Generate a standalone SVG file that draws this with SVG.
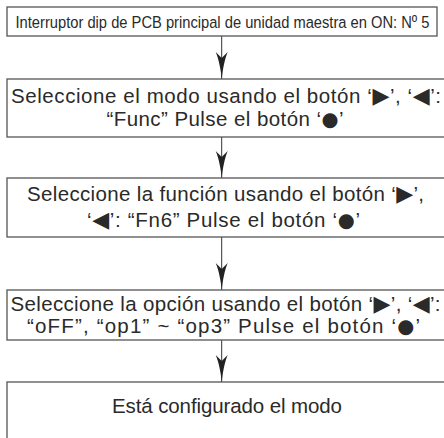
<svg xmlns="http://www.w3.org/2000/svg" width="444" height="438" viewBox="0 0 444 438">
<style>
.box{fill:#fff;stroke:#555;stroke-width:1.3}
.t{font-family:"Liberation Sans","DejaVu Sans",sans-serif;font-size:20.5px;fill:#2a2a2a;text-anchor:middle}
.s{font-family:"DejaVu Sans",sans-serif;font-size:22px}
.b{font-family:"DejaVu Sans",sans-serif;font-size:19.5px}
.n{font-family:"Liberation Sans","DejaVu Sans",sans-serif;font-size:17px;fill:#2a2a2a;text-anchor:middle}
.c{stroke:#333;stroke-width:1;fill:none;marker-end:url(#ah)}
</style>
<defs>
<marker id="ah" markerUnits="userSpaceOnUse" viewBox="-28 -7 30 14" markerWidth="30" markerHeight="14" refX="0" refY="0" orient="auto" overflow="visible">
<path d="M0,0 C-10,-1 -20,-3 -27,-6 L-21,0 L-27,6 C-20,3 -10,1 0,0 Z" fill="#222"/>
</marker>
</defs>
<rect width="444" height="438" fill="#fff"/>
<g id="connectors">
<line class="c" x1="221.7" y1="36" x2="221.7" y2="79"/>
<line class="c" x1="221.7" y1="137" x2="221.7" y2="178"/>
<line class="c" x1="221.7" y1="237" x2="221.7" y2="290"/>
<line class="c" x1="221.7" y1="340" x2="221.7" y2="382"/>
</g>
<g id="n1">
<rect class="box" x="7" y="7" width="430" height="29"/>
<text class="n" transform="translate(222.5 27.5) scale(0.865 1)" x="0" y="0" textLength="478.6" lengthAdjust="spacingAndGlyphs">Interruptor dip de PCB principal de unidad maestra en ON: Nº 5</text>
</g>
<g id="n2">
<rect class="box" x="7" y="79" width="440" height="58"/>
<text class="t" x="226" y="103" textLength="430">Seleccione el modo usando el botón ‘<tspan class="s">▶</tspan>’, ‘<tspan class="s">◀</tspan>’:</text>
<text class="t" x="225" y="126" textLength="237">“Func” Pulse el botón ‘<tspan class="b">●</tspan>’</text>
</g>
<g id="n3">
<rect class="box" x="7" y="178" width="440" height="59"/>
<text class="t" x="225.5" y="201" textLength="397">Seleccione la función usando el botón ‘<tspan class="s">▶</tspan>’,</text>
<text class="t" x="223.5" y="227" textLength="273">‘<tspan class="s">◀</tspan>’: “Fn6” Pulse el botón ‘<tspan class="b">●</tspan>’</text>
</g>
<g id="n4">
<rect class="box" x="7" y="290" width="440" height="50"/>
<text class="t" x="225.5" y="311" textLength="430">Seleccione la opción usando el botón ‘<tspan class="s">▶</tspan>’, ‘<tspan class="s">◀</tspan>’:</text>
<text class="t" x="223.5" y="333" textLength="393">“oFF”, “op1” ~ “op3” Pulse el botón ‘<tspan class="b">●</tspan>’</text>
</g>
<g id="n5">
<rect class="box" x="7" y="382" width="440" height="60"/>
<text class="t" x="227" y="413" textLength="230">Está configurado el modo</text>
</g>
</svg>
